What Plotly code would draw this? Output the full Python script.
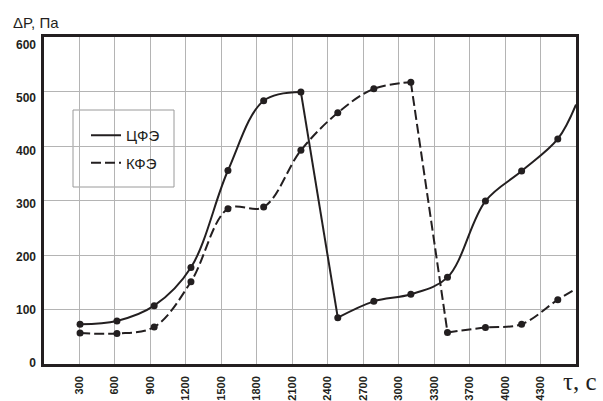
import plotly.graph_objects as go

# Time points (s) and pressure drop (Pa) for the two filter elements
tau = [305, 617, 932, 1243, 1556, 1858, 2173, 2485, 2790, 3103, 3413, 3734, 4040, 4346, 4500]
dp_cfe = [73, 79, 107, 177, 355, 483, 499, 85, 115, 128, 159, 299, 354, 413, 476]
dp_kfe = [57, 56, 68, 151, 285, 288, 392, 461, 505, 517, 58, 67, 73, 118, 138]

# Segments: smooth parts are splines, regeneration drops are straight
cfe_segments = [(0, 7, "spline"), (6, 8, "linear"), (7, 15, "spline")]
kfe_segments = [(0, 10, "spline"), (9, 11, "linear"), (10, 15, "spline")]

grid_ticks = [300, 600, 900, 1200, 1500, 1800, 2100, 2400, 2700, 3000, 3300, 3600, 3900, 4200]
tick_text = ["300", "600", "900", "1200", "1500", "1800", "2100", "2400", "2700",
             "3000", "3300", "3700", "4000", "4300"]
y_ticks = [0, 100, 200, 300, 400, 500, 600]

INK = "#231f20"
W, H = 603, 401
L, R, T, B = 44, 27, 37, 37

fig = go.Figure()


def add_series(name, ys, segments, dash):
    for i, (a, b, shape) in enumerate(segments):
        fig.add_trace(go.Scatter(
            x=tau[a:b], y=ys[a:b], mode="lines", name=name,
            legendgroup=name, showlegend=(i == 0),
            line=dict(color=INK, width=2, dash=dash, shape=shape, smoothing=1),
            hoverinfo="skip",
        ))
    # measured points (the last value sits on the frame edge, without a dot)
    fig.add_trace(go.Scatter(
        x=tau[:-1], y=ys[:-1], mode="markers", legendgroup=name, showlegend=False,
        marker=dict(color=INK, size=7), hoverinfo="skip",
    ))


add_series("ЦФЭ", dp_cfe, cfe_segments, "solid")
add_series("КФЭ", dp_kfe, kfe_segments, "10px,4px")

# empty trace so the label-only y axis gets drawn
fig.add_trace(go.Scatter(x=[], y=[], yaxis="y2", showlegend=False, hoverinfo="skip"))


def px_x(p):
    return (p - L) / (W - L - R)


def px_y(p):
    return (H - B - p) / (H - T - B)


# legend frame
fig.add_shape(type="rect", xref="paper", yref="paper",
              x0=px_x(73), x1=px_x(174), y0=px_y(187), y1=px_y(110),
              line=dict(color="#9a9a9a", width=1), fillcolor="white", layer="between")

fig.update_layout(
    width=W, height=H,
    margin=dict(l=L, r=R, t=T, b=B),
    paper_bgcolor="white", plot_bgcolor="white",
    font=dict(family="Liberation Sans, Arial, sans-serif", color=INK),
    showlegend=True,
    legend=dict(x=px_x(86), y=px_y(119), xanchor="left", yanchor="top",
                bgcolor="rgba(0,0,0,0)", borderwidth=0,
                font=dict(size=15, color=INK), tracegroupgap=5),
    xaxis=dict(range=[0, 4500], tickvals=grid_ticks, ticktext=tick_text,
               tickangle=-90, ticks="", ticklabelstandoff=5, automargin=False,
               tickfont=dict(size=11, weight="bold", color=INK),
               showgrid=True, gridcolor="#b4b4b4", gridwidth=1, zeroline=False,
               showline=True, linecolor=INK, linewidth=2.5, mirror=True),
    yaxis=dict(range=[0, 600], tickvals=y_ticks, showticklabels=False, ticks="",
               automargin=False,
               showgrid=True, gridcolor="#b4b4b4", gridwidth=1, zeroline=False,
               showline=True, linecolor=INK, linewidth=2.5, mirror=True),
    yaxis2=dict(overlaying="y", anchor="x", side="left", range=[-2, 615],
                tickvals=y_ticks, ticks="", showgrid=False, zeroline=False,
                showline=False, ticklabelstandoff=7, automargin=False,
                tickfont=dict(size=12, weight="bold", color=INK)),
    annotations=[
        dict(text="ΔP, Па", xref="paper", yref="paper", x=px_x(11), y=px_y(22),
             xanchor="left", yanchor="middle", showarrow=False,
             font=dict(size=15, color=INK)),
        dict(text="τ, с", xref="paper", yref="paper", x=px_x(561), y=px_y(381),
             xanchor="left", yanchor="middle", showarrow=False,
             font=dict(family="Liberation Serif, Times New Roman, serif", size=25, color=INK)),
    ],
)

fig.write_html("out.html")
